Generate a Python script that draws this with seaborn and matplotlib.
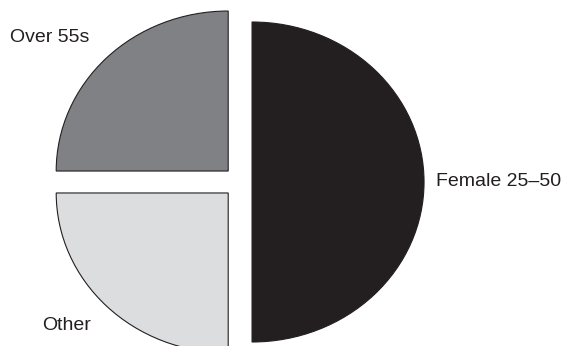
import matplotlib
matplotlib.use('Agg')
import matplotlib.pyplot as plt
import seaborn as sns

# audience share
segments = ['Female 25–50', 'Over 55s', 'Other']
shares = [50, 25, 25]
colors = ['#231f20', '#808184', '#dcdddf']

sns.set_theme(style='white')
plt.rcParams['font.family'] = ['Liberation Sans', 'DejaVu Sans']

fig = plt.figure(figsize=(5.68, 3.46), dpi=100)
ax = fig.add_axes([0, 0, 1, 1])

ax.pie(shares, colors=colors, startangle=-90, counterclock=True,
       explode=[0.07, 0.097, 0.097],
       wedgeprops=dict(edgecolor='#231f20', linewidth=0.8))

# slightly stretched ellipse like the original
ax.set_aspect('auto')
ax.set_xlim(-240 / 172, 328 / 172)
ax.set_ylim(-164 / 160, 182 / 160)
ax.axis('off')

fs = 14
fig.text(10 / 568, 1 - 37 / 346, segments[1], fontsize=fs, va='center', ha='left', color='#231f20')
fig.text(42 / 568, 1 - 326 / 346, segments[2], fontsize=fs, va='center', ha='left', color='#231f20')
fig.text(436 / 568, 1 - 182 / 346, segments[0], fontsize=fs, va='center', ha='left', color='#231f20')

fig.savefig('out.png', dpi=100, facecolor='white')
plt.close(fig)
